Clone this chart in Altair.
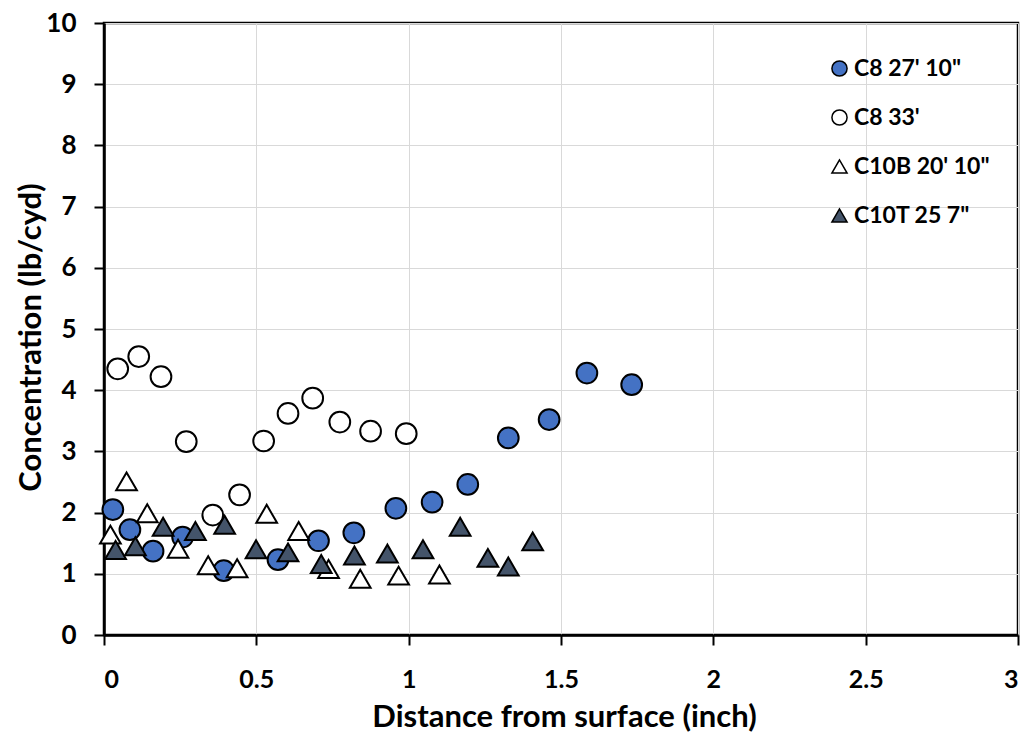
import altair as alt
import pandas as pd

series_names = ["C8 27' 10\"", "C8 33'", "C10B 20' 10\"", "C10T 25 7\""]

c8a_x = [0.029, 0.085, 0.161, 0.258, 0.393, 0.571, 0.704, 0.820, 0.958, 1.077, 1.194, 1.327, 1.461, 1.585, 1.732]
c8a_y = [2.05, 1.72, 1.37, 1.60, 1.05, 1.23, 1.54, 1.67, 2.07, 2.17, 2.46, 3.22, 3.52, 4.28, 4.09]

c8b_x = [0.045, 0.114, 0.187, 0.270, 0.357, 0.445, 0.524, 0.604, 0.685, 0.774, 0.875, 0.992]
c8b_y = [4.35, 4.55, 4.22, 3.16, 1.96, 2.29, 3.17, 3.62, 3.87, 3.48, 3.33, 3.29]

c10b_x = [0.021, 0.074, 0.142, 0.243, 0.342, 0.437, 0.534, 0.639, 0.737, 0.841, 0.967, 1.101]
c10b_y = [1.64, 2.51, 1.99, 1.41, 1.14, 1.09, 1.98, 1.70, 1.08, 0.92, 0.97, 0.99]

c10t_x = [0.038, 0.103, 0.194, 0.300, 0.396, 0.499, 0.604, 0.713, 0.822, 0.930, 1.047, 1.169, 1.260, 1.327, 1.407]
c10t_y = [1.39, 1.45, 1.77, 1.70, 1.80, 1.40, 1.35, 1.16, 1.30, 1.33, 1.40, 1.77, 1.26, 1.12, 1.53]

fills = ["#4472C4", "#FFFFFF", "#FFFFFF", "#44546A"]
shapes = ["circle", "circle", "triangle-up", "triangle-up"]

rows = []
for name, xs, ys in zip(series_names, [c8a_x, c8b_x, c10b_x, c10t_x], [c8a_y, c8b_y, c10b_y, c10t_y]):
    for x, y in zip(xs, ys):
        rows.append({"series": name, "x": x, "y": y})
df = pd.DataFrame(rows)
df["idx"] = range(len(df))

FONT = "Lato"

common_axis = dict(
    grid=True, gridColor="#d9d9d9", gridWidth=1,
    domainColor="black", domainWidth=2.5,
    tickColor="black", tickWidth=2, tickSize=10,
    labelFont=FONT, labelFontWeight="bold", labelColor="black",
    titleFont=FONT, titleFontWeight="bold", titleColor="black", titleFontSize=31,
)

points = alt.Chart(df).mark_point(
    filled=True, stroke="black", strokeWidth=2, opacity=1
).encode(
    x=alt.X("x:Q", scale=alt.Scale(domain=[0, 3], nice=False, zero=True),
            axis=alt.Axis(values=[0, 0.5, 1, 1.5, 2, 2.5, 3], format="~g",
                          title="Distance from surface (inch)",
                          titleX=460, titleY=82, titleBaseline="middle",
                          labelPadding=22, labelFontSize=25, **common_axis)),
    y=alt.Y("y:Q", scale=alt.Scale(domain=[0, 10], nice=False),
            axis=alt.Axis(values=list(range(0, 11)), title="Concentration (lb/cyd)",
                          titleX=-73, titleY=314, titleAngle=270,
                          titleBaseline="middle", titleAlign="center",
                          labelPadding=18, labelFontSize=26, **common_axis)),
    fill=alt.Fill("series:N", scale=alt.Scale(domain=series_names, range=fills),
                  legend=alt.Legend(title=None, orient="none", legendX=724, legendY=34,
                                    symbolSize=230, labelFontSize=23, rowPadding=25,
                                    labelOffset=3, symbolStrokeColor="black",
                                    symbolStrokeWidth=1.5, labelFont=FONT,
                                    labelFontWeight="bold", labelColor="black")),
    shape=alt.Shape("series:N", scale=alt.Scale(domain=series_names, range=shapes)),
    size=alt.value(430),
    order=alt.Order("idx:Q"),
)

chart = points.properties(
    width=914, height=612,
    background="white",
    autosize=alt.AutoSizeParams(type="none"),
    padding={"left": 96, "top": 15, "right": 4, "bottom": 101},
).configure_view(
    stroke="black", strokeWidth=2.5
)

chart.save("out.html", embed_options={"renderer": "svg", "actions": False})
